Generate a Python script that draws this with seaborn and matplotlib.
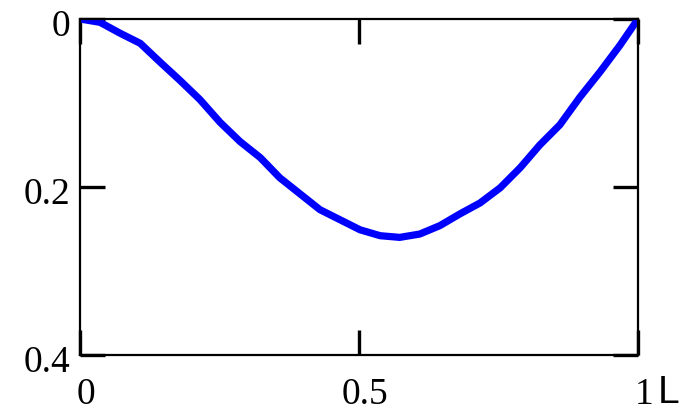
import numpy as np
import pandas as pd
import matplotlib
matplotlib.use("Agg")
import matplotlib.pyplot as plt
import matplotlib.transforms as mtransforms
import seaborn as sns

# values
pos = [0.0, 0.036, 0.072, 0.108, 0.143, 0.179, 0.215, 0.251, 0.287, 0.323,
       0.358, 0.394, 0.430, 0.466, 0.502, 0.538, 0.573, 0.609, 0.645, 0.681,
       0.717, 0.753, 0.789, 0.824, 0.860, 0.896, 0.932, 0.968, 1.0]
depth = [0.0, 0.004, 0.017, 0.029, 0.051, 0.073, 0.096, 0.123, 0.146, 0.165,
         0.189, 0.208, 0.227, 0.239, 0.251, 0.258, 0.260, 0.256, 0.246, 0.232,
         0.219, 0.201, 0.177, 0.150, 0.126, 0.093, 0.063, 0.031, 0.0]

xticks = [0, 0.5, 1]
xlabels = ["0", "0.5", "1"]
yticks = [0, 0.2, 0.4]
ylabels = ["0", "0.2", "0.4"]

df = pd.DataFrame({"x": pos, "y": depth})

sns.set_style("white")
plt.rcParams['font.family'] = ['Liberation Serif', 'DejaVu Serif']

fig = plt.figure(figsize=(6.86, 4.11), dpi=100)
ax = fig.add_axes([0.1166, 0.1363, 0.8134, 0.8175])

sns.lineplot(data=df, x="x", y="y", ax=ax, color="#0000ff", linewidth=5.2)

ax.set_xlim(0, 1)
ax.set_ylim(0.4, 0)
ax.set_xticks(xticks)
ax.set_xticklabels(xlabels)
ax.set_yticks(yticks)
ax.set_yticklabels(ylabels)
ax.set_xlabel("")
ax.set_ylabel("")

for s in ax.spines.values():
    s.set_visible(True)
    s.set_linewidth(1.6)
    s.set_color("black")

ax.tick_params(axis="both", which="major", direction="in", length=18, width=2.4,
               color="black", labelsize=27, labelcolor="black",
               top=True, right=True, bottom=True, left=True,
               labeltop=False, labelright=False)
ax.tick_params(axis="x", pad=16)
ax.tick_params(axis="y", pad=7)

# small label offsets, like the reference
off = mtransforms.ScaledTranslation(6 / 100, 0, fig.dpi_scale_trans)
for lab in ax.get_xticklabels():
    lab.set_transform(lab.get_transform() + off)
offy = mtransforms.ScaledTranslation(0, -4 / 100, fig.dpi_scale_trans)
for lab in ax.get_yticklabels():
    lab.set_transform(lab.get_transform() + offy)

fig.text(669 / 686, 1 - 403 / 411, "L", family="Liberation Sans", fontsize=28,
         ha="center", va="baseline", color="black")

fig.savefig("out.png", dpi=100, facecolor="white")
